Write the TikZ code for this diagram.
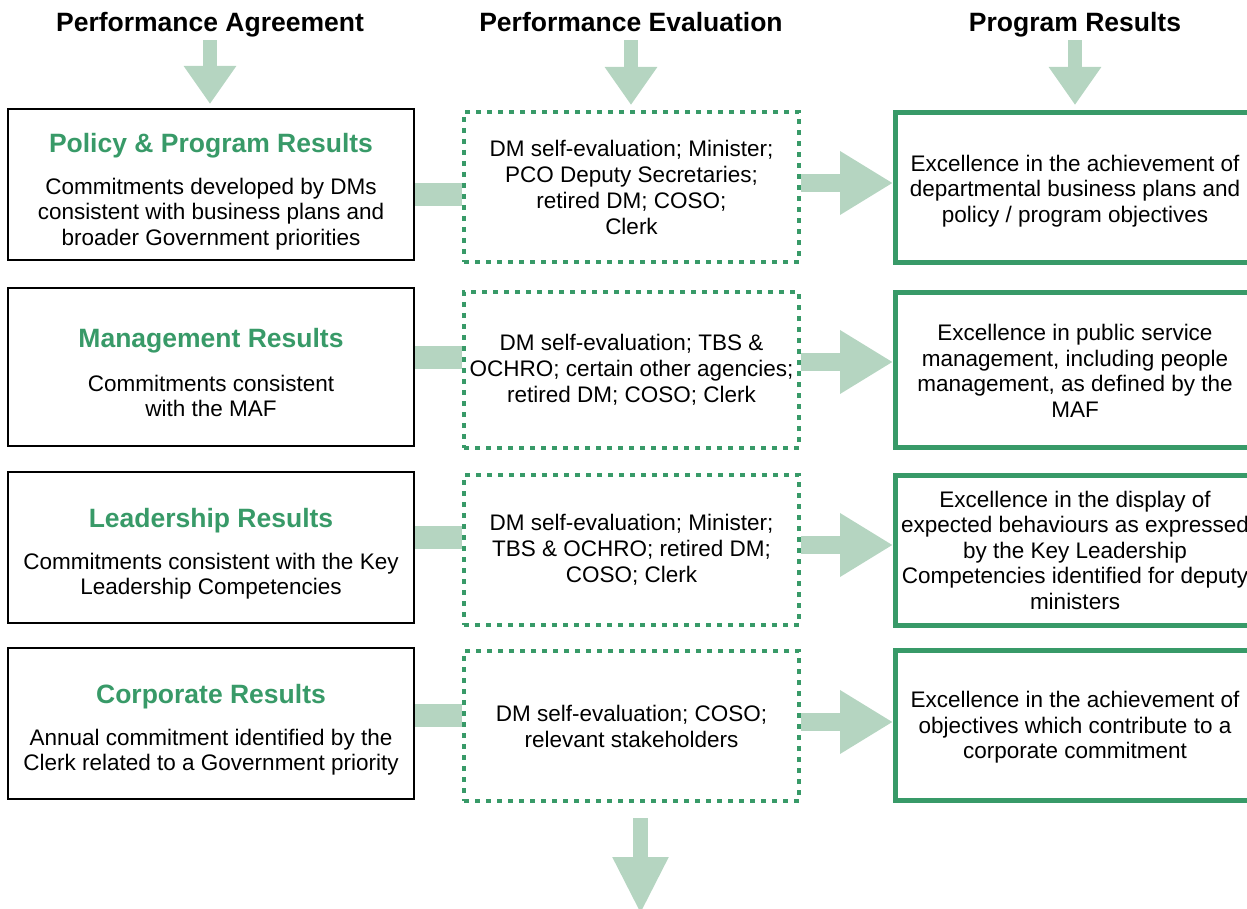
\documentclass[tikz,border=0pt]{standalone}
\usepackage{fontspec}
\setmainfont{Liberation Sans}
\usetikzlibrary{arrows.meta}

\definecolor{pgreen}{RGB}{56,154,104}
\definecolor{lgreen}{RGB}{181,213,193}

\tikzset{
	kopf/.style={font=\fontsize{26.5}{30}\selectfont\bfseries, inner sep=0pt,
	text height=19pt, text depth=6pt, anchor=base},
	titel/.style={font=\fontsize{26.5}{30}\selectfont\bfseries, text=pgreen,
	inner sep=0pt, anchor=base},
	fliess/.style={font=\fontsize{22.5}{25.5}\selectfont, align=center, inner sep=0pt},
	agrbox/.style={draw=black, line width=2pt, minimum width=406pt},
	evalbox/.style={draw=pgreen, line width=4pt, dash pattern=on 5pt off 6pt,
	minimum width=335pt, font=\fontsize{22.5}{26}\selectfont, align=center},
	resbox/.style={draw=pgreen, line width=5pt, minimum width=380pt},
	link/.style={draw=lgreen, line width=23pt},
	flow/.style={draw=lgreen, line width=18pt, -{Triangle[length=53pt, width=60pt]}},
	flowdown/.style={draw=lgreen, line width=14pt, -{Triangle[length=38pt, width=50pt]}}
}

\begin{document}
\begin{tikzpicture}[x=1pt, y=1pt]
	\useasboundingbox (0,0) rectangle (1247,-909);
	% Ueberschriften
	\node[kopf] (hagr) at (210,-32) {Performance Agreement};
	\node[kopf] (heval) at (631,-32) {Performance Evaluation};
	\node[kopf] (hres) at (1075,-32) {Program Results};
	% linke Spalte
	\node[agrbox, minimum height=151pt] (agr1) at (211,-184.5) {};
	\node[titel] (agr1t) at (211,-152.5) {Policy \& Program Results};
	\node[fliess] (agr1b) at (211,-214) {Commitments developed by DMs\\consistent with
	business plans and\\broader Government priorities};
	\node[agrbox, minimum height=158pt] (agr2) at (211,-367) {};
	\node[titel] (agr2t) at (211,-347.5) {Management Results};
	\node[fliess] (agr2b) at (211,-396) {Commitments consistent\\with the MAF};
	\node[agrbox, minimum height=151pt] (agr3) at (211,-547.5) {};
	\node[titel] (agr3t) at (211,-527.5) {Leadership Results};
	\node[fliess] (agr3b) at (211,-576) {Commitments consistent with the Key\\Leadership
	Competencies};
	\node[agrbox, minimum height=151pt] (agr4) at (211,-723.5) {};
	\node[titel] (agr4t) at (211,-703.5) {Corporate Results};
	\node[fliess] (agr4b) at (211,-752) {Annual commitment identified by the\\Clerk
	related to a Government priority};
	% mittlere Spalte
	\node[evalbox, minimum height=150pt] (eval1) at (631.5,-187) {DM self-evaluation;
	Minister;\\PCO Deputy Secretaries;\\retired DM; COSO;\\Clerk};
	\node[evalbox, minimum height=156pt] (eval2) at (631.5,-370) {DM self-evaluation;
	TBS \&\\OCHRO; certain other agencies;\\retired DM; COSO; Clerk};
	\node[evalbox, minimum height=150pt] (eval3) at (631.5,-550) {DM self-evaluation;
	Minister;\\TBS \& OCHRO; retired DM;\\COSO; Clerk};
	\node[evalbox, minimum height=150pt] (eval4) at (631.5,-726) {DM self-evaluation;
	COSO;\\relevant stakeholders};
	% rechte Spalte
	\node[resbox, minimum height=150pt] (res1) at (1085.5,-187.5) {};
	\node[fliess] (res1t) at (1075,-191) {Excellence in the achievement of\\departmental
	business plans and\\policy / program objectives};
	\node[resbox, minimum height=155pt] (res2) at (1085.5,-370) {};
	\node[fliess] (res2t) at (1075,-371) {Excellence in public service\\management,
	including people\\management, as defined by the\\MAF};
	\node[resbox, minimum height=150pt] (res3) at (1085.5,-550.5) {};
	\node[fliess] (res3t) at (1075,-550) {Excellence in the display of\\expected
	behaviours as expressed\\by the Key Leadership\\Competencies identified for
	deputy\\ministers};
	\node[resbox, minimum height=150pt] (res4) at (1085.5,-725.5) {};
	\node[fliess] (res4t) at (1075,-727.5) {Excellence in the achievement of\\objectives
	which contribute to a\\corporate commitment};
	% Pfeile oben
	\draw[flowdown, shorten <=2pt, shorten >=4pt] (hagr.south) -- (hagr.south |-
	agr1.north);
	\draw[flowdown, shorten <=2pt, shorten >=5pt] (heval.south) -- (heval.south |-
	eval1.north);
	\draw[flowdown, shorten <=2pt, shorten >=5pt] (hres.south) -- (hres.south |-
	res1.north);
	% Verbindungen links - Mitte
	\draw[link] ([yshift=-10.5pt]agr1.east) -- ([yshift=-10.5pt]agr1.east -| eval1.west);
	\draw[link] ([yshift=9.5pt]agr2.east) -- ([yshift=9.5pt]agr2.east -| eval2.west);
	\draw[link] ([yshift=10pt]agr3.east) -- ([yshift=10pt]agr3.east -| eval3.west);
	\draw[link] ([yshift=8.5pt]agr4.east) -- ([yshift=8.5pt]agr4.east -| eval4.west);
	% Pfeile Mitte - rechts
	\draw[flow] ([yshift=4pt]eval1.east) -- ([yshift=4pt]eval1.east -| res1.west);
	\draw[flow] ([yshift=8pt]eval2.east) -- ([yshift=8pt]eval2.east -| res2.west);
	\draw[flow] ([yshift=5pt]eval3.east) -- ([yshift=5pt]eval3.east -| res3.west);
	\draw[flow] ([yshift=4pt]eval4.east) -- ([yshift=4pt]eval4.east -| res4.west);
	% Pfeil unten
	\coordinate (ende) at (640.5,-914);
	\draw[draw=lgreen, line width=15pt, -{Triangle[length=57pt, width=52pt]},
	shorten <=15pt] (ende |- eval4.south) -- (ende);
\end{tikzpicture}
\end{document}
